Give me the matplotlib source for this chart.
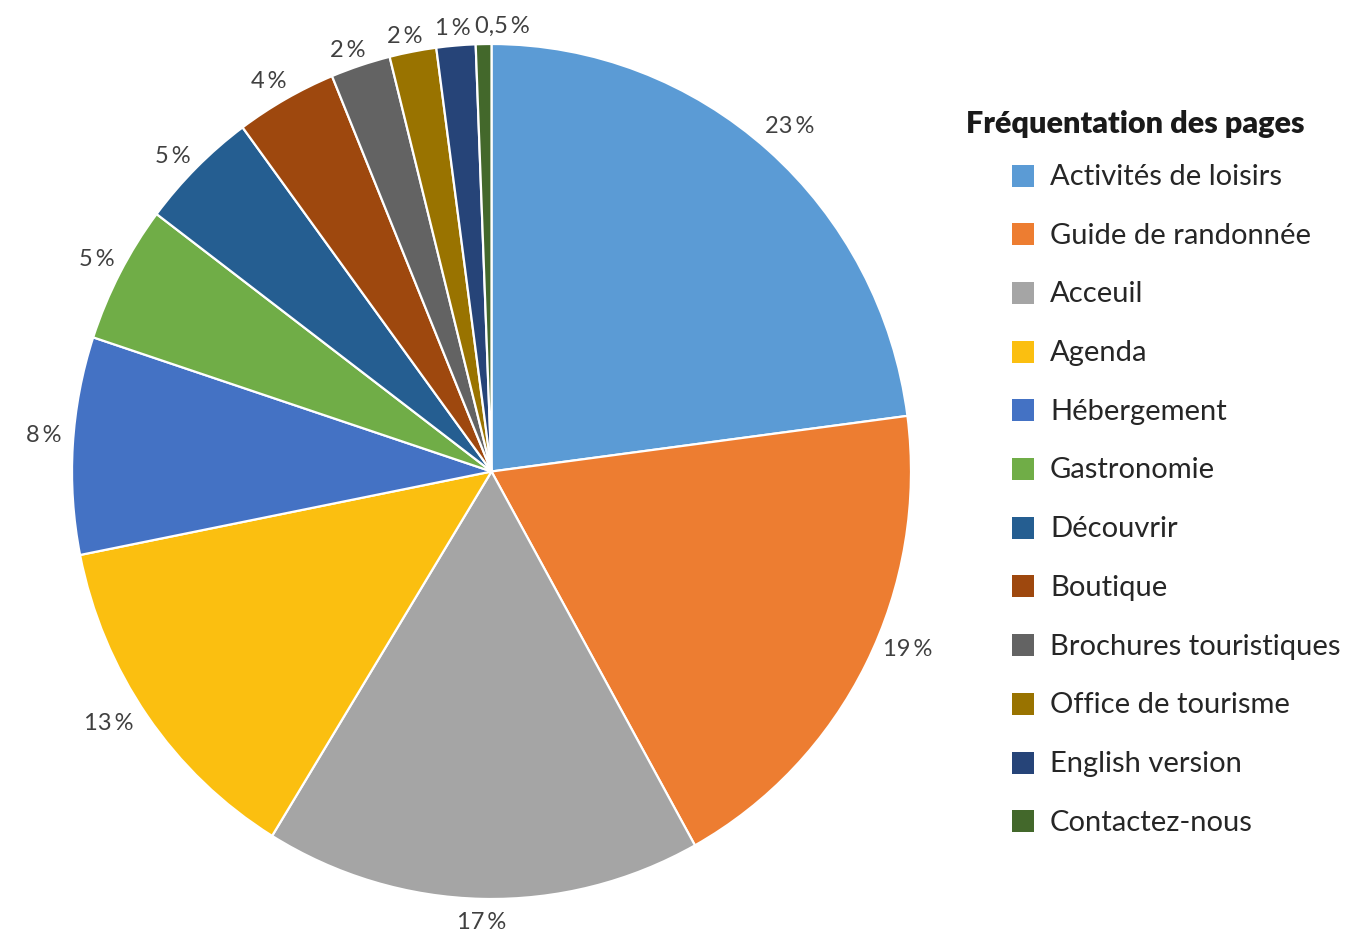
import numpy as np
import matplotlib
matplotlib.use("Agg")
import matplotlib.pyplot as plt
from matplotlib.patches import Rectangle

# ---- data ----
categories = ["Activités de loisirs", "Guide de randonnée", "Acceuil", "Agenda",
              "Hébergement", "Gastronomie", "Découvrir", "Boutique",
              "Brochures touristiques", "Office de tourisme", "English version",
              "Contactez-nous"]
values = [22.9, 19.0, 16.8, 13.1, 8.2, 5.2, 4.6, 3.9, 2.3, 1.8, 1.5, 0.6]
value_labels = ["23\u2009%", "19\u2009%", "17\u2009%", "13\u2009%", "8\u2009%", "5\u2009%",
                "5\u2009%", "4\u2009%", "2\u2009%", "2\u2009%", "1\u2009%", "0,5\u2009%"]
colors = ["#5B9BD5", "#ED7D31", "#A5A5A5", "#FBBF10", "#4472C4", "#70AD47",
          "#255E91", "#9E480E", "#636363", "#997300", "#264478", "#43682B"]
legend_title = "Fréquentation des pages"

# label nudges in pixels (dx right, dy down) to mimic the reference's label layout
label_nudges = [(-3, -6), (8, -25), (0, 0), (-8, -6), (2, -8), (4, -3), (-2, 6),
                (-2, 3), (-3, 7), (-2, 8), (0, 6), (20, 6)]

plt.rcParams['font.family'] = ['Lato', 'DejaVu Sans']

W, H = 1347, 934
fig = plt.figure(figsize=(W / 100, H / 100), dpi=100)

# pie axes in pixel geometry
left, right, top, bottom = 72, 911, 44, 899
ax = fig.add_axes([left / W, (H - bottom) / H, (right - left) / W, (bottom - top) / H])
wedges, _ = ax.pie(values, colors=colors, startangle=90, counterclock=False,
                   wedgeprops=dict(edgecolor="white", linewidth=1.6))
ax.set_aspect('auto')
ax.set_xlim(-1, 1)
ax.set_ylim(-1, 1)

fig.canvas.draw()
renderer = fig.canvas.get_renderer()
gap = 13
for w, lab, (nx, ny) in zip(wedges, value_labels, label_nudges):
    th = np.deg2rad((w.theta1 + w.theta2) / 2)
    c, s = np.cos(th), np.sin(th)
    t = ax.annotate(lab, xy=(c, s), xytext=(gap * c, gap * s),
                    textcoords='offset pixels', ha='center', va='center',
                    fontsize=17, color="#404040")
    bb = t.get_window_extent(renderer)
    t.set_position((gap * c + c * bb.width / 2 + nx,
                    gap * s + s * bb.height / 2 - ny))

# legend (title + entries)
fig.text(966 / W, 1 - 133 / H, legend_title, fontsize=22, fontweight='heavy',
         color="#1a1a1a", ha='left', va='baseline')
for i, (cat, col) in enumerate(zip(categories, colors)):
    base = 185 + i * 58.7
    fig.patches.append(Rectangle((1012 / W, 1 - (base + 1.5) / H), 22 / W, 22 / H,
                                 transform=fig.transFigure, facecolor=col,
                                 edgecolor='none'))
    fig.text(1050 / W, 1 - base / H, cat, fontsize=21, color="#262626",
             ha='left', va='baseline')

fig.savefig("out.png", dpi=100)
